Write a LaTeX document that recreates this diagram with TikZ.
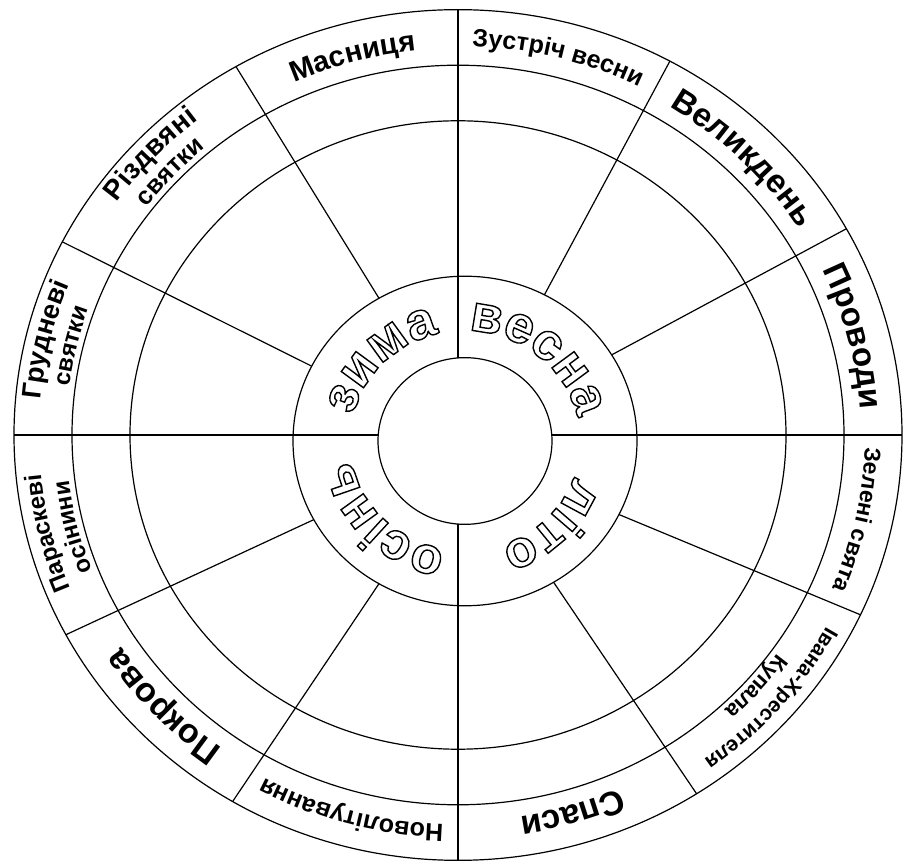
\documentclass[tikz,border=0pt]{standalone}
\usepackage{fontspec}
\setmainfont{Liberation Sans}
\usetikzlibrary{decorations.text}

% контурна літера
\newcommand\hollow[1]{\special{pdf:literal direct 1 Tr 1.4 w}#1\special{pdf:literal direct 0 Tr}}

% напис у зовнішньому кільці: кут1, кут2, радіус, розмір, текст
\newcommand\bandlabel[5]{%
  \path[decorate, decoration={text along path, text align=center,
      text={|\bfseries\fontsize{#4}{#4}\selectfont|#5}}]
    (#1:#3) arc[start angle=#1, end angle=#2, radius=#3];}

% назва пори року: кут1, кут2, слово
\newcommand\seasonword[3]{%
  \path[decorate, decoration={text effects along path, text={#3}, text align=center,
      text effects/.cd, text along path, character command=\hollow,
      every character/.append style={font=\bfseries\fontsize{52}{52}\selectfont}}]
    ([shift={(#1:115)}]ic) arc[start angle=#1, end angle=#2, radius=115];}

\begin{document}
\begin{tikzpicture}[
    x=1pt, y=0.958pt,
    ring/.style={line width=1.2pt},
    spoke/.style={line width=1.2pt}
]
    \useasboundingbox (-458pt,-431pt) rectangle (446pt,435pt);
    \coordinate (ic) at (7,-6.26);

    % кола
    \draw[ring] (0,0) circle[radius=444];
    \draw[ring] (0,0) circle[radius=386];
    \draw[ring] (0,0) circle[radius=328];
    \draw[ring] (ic) circle[radius=172];
    \draw[ring] (ic) circle[radius=87];

    % осі
    \draw[spoke] (90:444) -- (0,80.5);
    \draw[spoke] (270:444) -- (0,-93);
    \draw[spoke] (180:444) -- (-79.8,0);
    \draw[spoke] (0:444) -- (93.8,0);

    % місяці
    \foreach \ao/\ai in {29/31.5, 61.5/62.5, 120/120, 153/153, 208/208.5,
                         239.5/240, 302.5/301, 335/333.5}
        \draw[spoke] (\ao:444) -- ([shift={(\ai:172)}]ic);

    % пори року
    \seasonword{180}{90}{зима}
    \seasonword{95}{5}{весна}
    \seasonword{0}{-90}{літо}
    \seasonword{270}{180}{осінь}

    % свята
    \bandlabel{120}{90}{403}{29}{Масниця}
    \bandlabel{90}{61.5}{406}{25}{Зустріч весни}
    \bandlabel{61.5}{29}{403}{33}{Великдень}
    \bandlabel{29}{0}{403}{33}{Проводи}
    \bandlabel{360}{335}{407}{23}{Зелені свята}
    \bandlabel{335}{302.5}{419}{21}{Івана-Хрестителя}
    \bandlabel{335}{302.5}{392}{22}{Купала}
    \bandlabel{302.5}{270}{403}{34}{Спаси}
    \bandlabel{270}{239.5}{407}{25}{Новолітування}
    \bandlabel{239.5}{208}{403}{34}{Покрова}
    \bandlabel{208}{180}{419}{24}{Параскеві}
    \bandlabel{208}{180}{392}{24}{осінини}
    \bandlabel{180}{153}{419}{27}{Грудневі}
    \bandlabel{180}{153}{392}{24}{святки}
    \bandlabel{153}{120}{419}{28}{Різдвяні}
    \bandlabel{153}{120}{392}{25}{святки}
\end{tikzpicture}
\end{document}
